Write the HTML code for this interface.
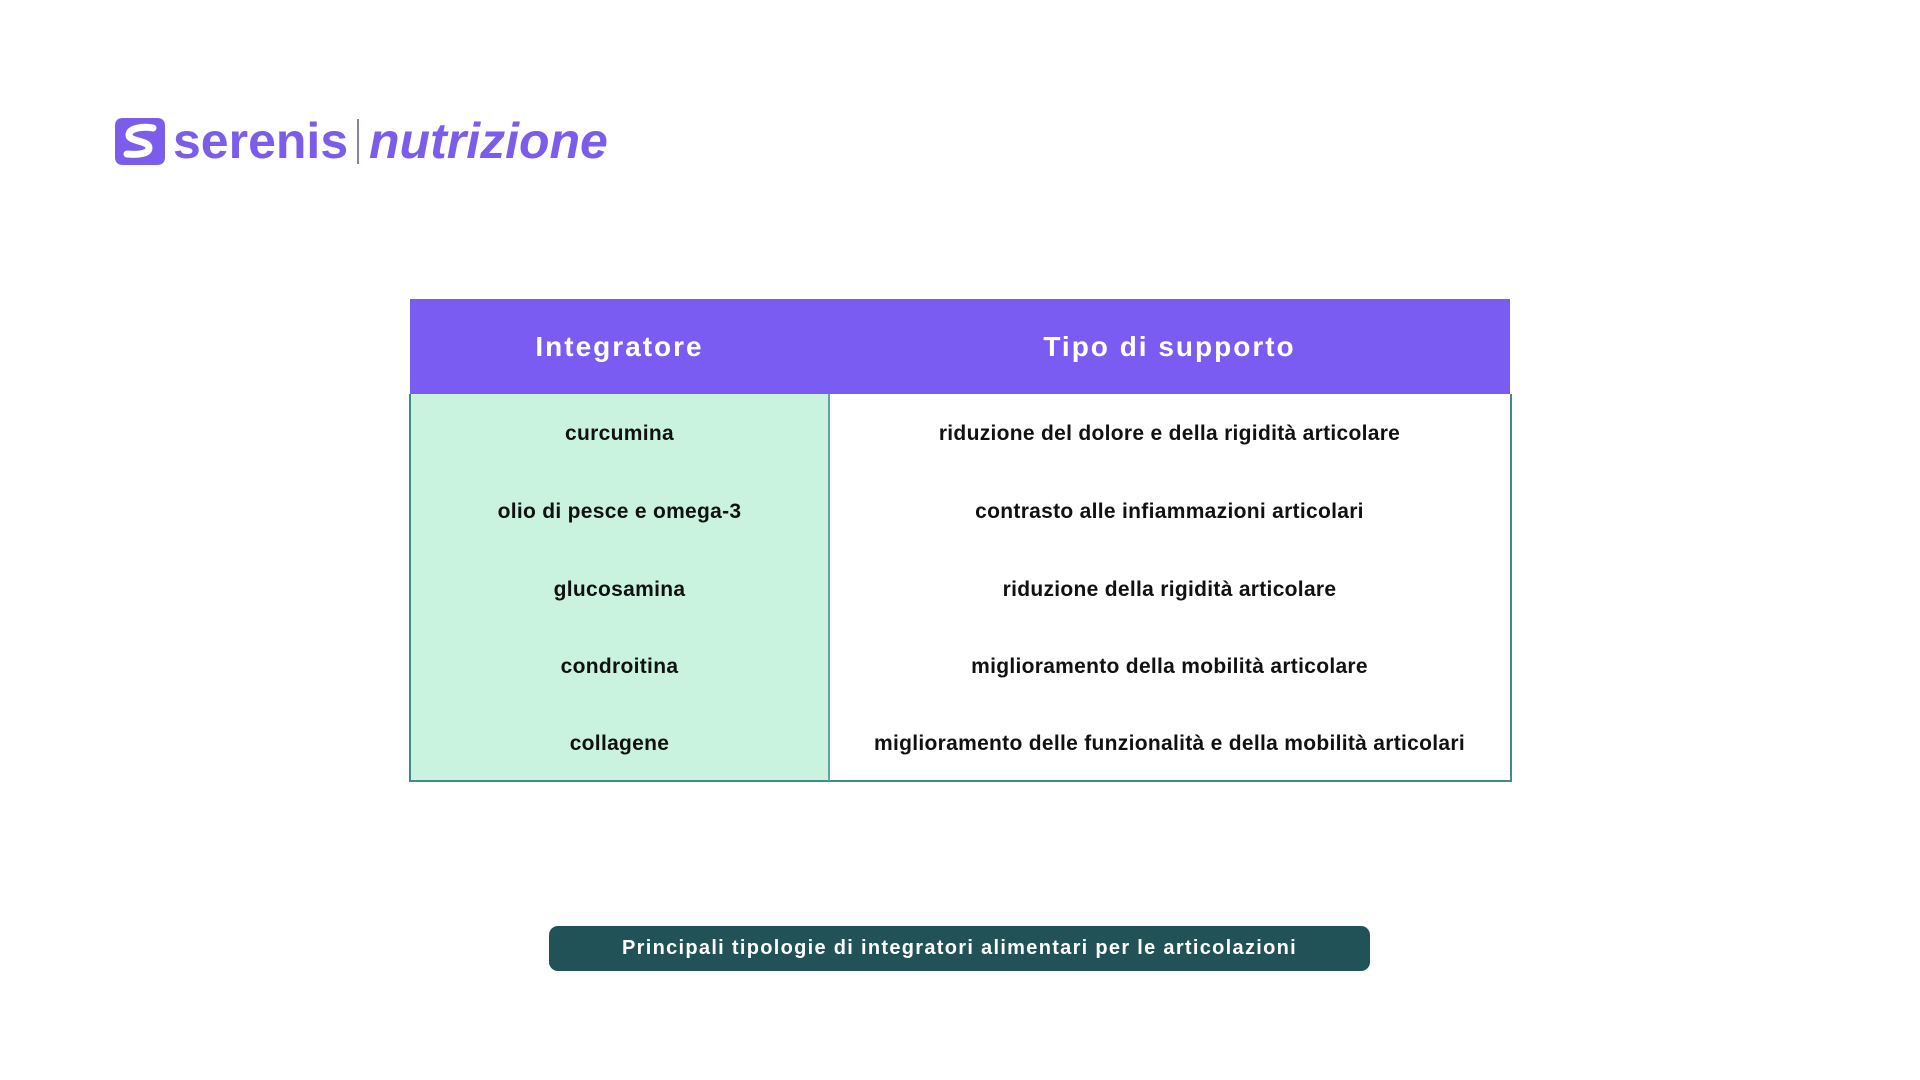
<!DOCTYPE html>
<html><head><meta charset="utf-8"><style>
body{margin:0;width:1920px;height:1080px;background:#fff;position:relative;overflow:hidden;font-family:"Liberation Sans",sans-serif}
.abs{position:absolute}
.logo{color:#7B5CEB;font-weight:bold;font-size:50px;line-height:50px;top:116px;letter-spacing:0px}
.c{position:absolute;font-weight:bold;color:#111;font-size:21px;letter-spacing:0.3px;text-align:center;line-height:24px}
</style></head><body>
<svg class="abs" style="left:115px;top:118px" width="50" height="47" viewBox="0 0 50 47">
<path d="M8 0 H42 Q50 0 50 8 V39 Q50 47 42 47 H8 Q0 47 0 39 V8 Q0 0 8 0Z" fill="#7B5CEB"/>
<path d="M38 10 C28 8 14 10 14 17 C14 24 34 22 34 30 C34 36 22 37 12 36" fill="none" stroke="#fff" stroke-width="7" stroke-linecap="round"/>
</svg>
<div class="abs logo" style="left:173px">serenis</div>
<div class="abs" style="left:357px;top:119px;width:2px;height:45px;background:#8a80b0"></div>
<div class="abs logo" style="left:369px;font-style:italic">nutrizione</div>

<div class="abs" style="left:410px;top:299px;width:1100px;height:95px;background:#7B5CF2"></div>
<div class="abs" style="left:410px;top:394px;width:419px;height:387px;background:#C9F3DE"></div>
<div class="abs" style="left:409px;top:394px;width:1099px;height:386px;border:2px solid #3E8A8C;border-top:none"></div>
<div class="abs" style="left:828px;top:394px;width:2px;height:387px;background:#5FA7A0"></div>

<div class="c" style="left:410px;width:419px;top:331px;color:#fff;font-size:28px;letter-spacing:2px;line-height:32px">Integratore</div>
<div class="c" style="left:829px;width:681px;top:331px;color:#fff;font-size:28px;letter-spacing:2px;line-height:32px">Tipo di supporto</div>

<div class="c" style="left:410px;width:419px;top:422px">curcumina</div>
<div class="c" style="left:410px;width:419px;top:500px">olio di pesce e omega-3</div>
<div class="c" style="left:410px;width:419px;top:578px">glucosamina</div>
<div class="c" style="left:410px;width:419px;top:655px">condroitina</div>
<div class="c" style="left:410px;width:419px;top:732px">collagene</div>

<div class="c" style="left:829px;width:681px;top:422px">riduzione del dolore e della rigidità articolare</div>
<div class="c" style="left:829px;width:681px;top:500px">contrasto alle infiammazioni articolari</div>
<div class="c" style="left:829px;width:681px;top:578px">riduzione della rigidità articolare</div>
<div class="c" style="left:829px;width:681px;top:655px">miglioramento della mobilità articolare</div>
<div class="c" style="left:829px;width:681px;top:732px">miglioramento delle funzionalità e della mobilità articolari</div>

<div class="abs" style="left:549px;top:926px;width:821px;height:45px;background:#205257;border-radius:9px"></div>
<div class="c" style="left:549px;width:821px;top:936px;color:#fff;font-size:20px;letter-spacing:1.3px">Principali tipologie di integratori alimentari per le articolazioni</div>
</body></html>
